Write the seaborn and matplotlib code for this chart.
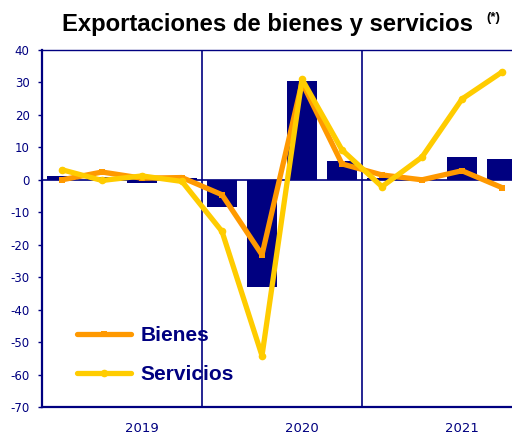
import numpy as np
import pandas as pd
import matplotlib
matplotlib.use("Agg")
import matplotlib.pyplot as plt
import seaborn as sns

# ---- data ----
quarters = ["2019T1", "2019T2", "2019T3", "2019T4",
            "2020T1", "2020T2", "2020T3", "2020T4",
            "2021T1", "2021T2", "2021T3", "2021T4"]
total = [1.2, 1.0, -0.9, 0.7, -8.5, -33.1, 30.3, 5.9, 0.5, 0.8, 7.0, 6.4]
bienes = [0.0, 2.4, 0.5, 0.7, -4.6, -23.1, 30.0, 4.9, 1.5, 0.0, 2.8, -2.4]
servicios = [3.1, -0.2, 1.2, -0.5, -15.9, -54.2, 31.0, 9.2, -2.1, 7.0, 24.9, 33.2]
years = ["2019", "2020", "2021"]
yticks = list(range(-70, 41, 10))

NAVY = "#000080"
ORANGE = "#FF9900"
YELLOW = "#FFCC00"

sns.set_style("white")
plt.rcParams["font.family"] = ["Liberation Sans", "DejaVu Sans"]

df = pd.DataFrame({"trimestre": quarters, "total": total,
                   "Bienes": bienes, "Servicios": servicios})
df["pos"] = np.arange(len(df))

fig = plt.figure(figsize=(5.12, 4.34), dpi=100)
ax = fig.add_axes([42 / 512, 27 / 434, 480 / 512, 357 / 434])

sns.barplot(data=df, x="trimestre", y="total", color=NAVY, saturation=1,
            width=0.75, linewidth=0, ax=ax, zorder=2)

ax.axhline(0, color=NAVY, lw=1.2, zorder=3)
for b in [3.5, 7.5]:
    ax.axvline(b, color=NAVY, lw=1.2, zorder=1)

sns.lineplot(data=df, x="pos", y="Bienes", color=ORANGE, lw=3.8,
             marker="s", markersize=5, markeredgewidth=0, ax=ax,
             label="Bienes", zorder=4)
sns.lineplot(data=df, x="pos", y="Servicios", color=YELLOW, lw=3.8,
             marker="o", markersize=5.5, markeredgewidth=0, ax=ax,
             label="Servicios", zorder=5)

ax.set_xlim(-0.5, 11.5)
ax.set_ylim(-70, 40)
ax.set_yticks(yticks)
ax.set_yticklabels([str(v) for v in yticks], color=NAVY, fontsize=8.5,
                   family="DejaVu Sans")
ax.set_xticks([2.0, 6.0, 10.0])
ax.set_xticklabels(years, color=NAVY, fontsize=9.5, family="DejaVu Sans")
ax.tick_params(axis="x", length=0, pad=11)
ax.tick_params(axis="y", length=3, width=1, color=NAVY, direction="out",
               pad=6, left=True)
ax.set_xlabel("")
ax.set_ylabel("")

for s in ["left", "bottom"]:
    ax.spines[s].set_color(NAVY)
    ax.spines[s].set_linewidth(1.6)
ax.spines["top"].set_color(NAVY)
ax.spines["top"].set_linewidth(1.0)
ax.spines["right"].set_visible(False)

leg = ax.legend(loc="center left", bbox_to_anchor=(77 / 512, 1 - 355 / 434),
                bbox_transform=fig.transFigure, frameon=False,
                prop={"weight": "bold", "size": 15}, handlelength=2.6,
                handletextpad=0.45, labelspacing=0.95, borderpad=0,
                borderaxespad=0)
for t in leg.get_texts():
    t.set_color(NAVY)

fig.text(62 / 512, 1 - 31 / 434, "Exportaciones de bienes y servicios",
         ha="left", va="baseline", fontsize=17.2, fontweight="bold",
         color="black")
fig.text(486 / 512, 1 - 21 / 434, "(*)", ha="left", va="baseline",
         fontsize=9.5, fontweight="bold", color="black")

fig.savefig("out.png", dpi=100)
